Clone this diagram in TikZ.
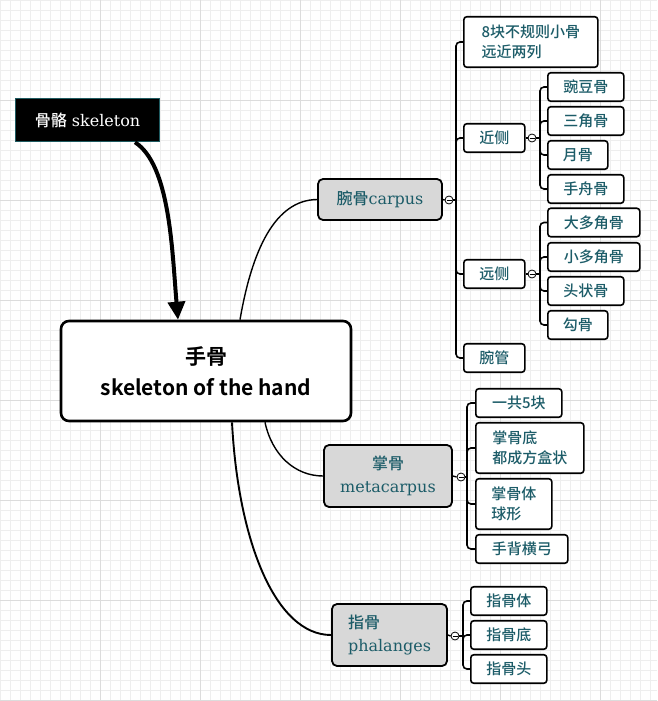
\documentclass[tikz,border=0pt]{standalone}
\usepackage{fontspec}
\setmainfont{DejaVu Serif}
\newfontfamily\cjk{Noto Sans CJK SC Medium}[BoldFont={Noto Sans CJK SC Bold}]
\usepackage{xcolor}
\usepackage{tikz}
\usetikzlibrary{arrows.meta, positioning}
\definecolor{topictext}{RGB}{28,92,104}
\definecolor{topicfill}{RGB}{216,216,216}
\definecolor{rootline}{RGB}{30,90,96}
\definecolor{gridminor}{RGB}{238,238,238}
\definecolor{gridmajor}{RGB}{220,220,220}

\begin{document}
\begin{tikzpicture}[x=1pt, y=-1pt,
    rootbox/.style={draw=rootline, line width=1.5pt, fill=black, text=white, minimum width=144pt, minimum height=43pt, inner sep=0pt, font=\fontsize{16}{18}\selectfont},
    mainbox/.style={draw, line width=2.6pt, rounded corners=8pt, fill=white, minimum width=290pt, minimum height=100pt, align=center, font=\cjk\bfseries\fontsize{21}{31}\selectfont},
    topicbox/.style={draw, line width=1.8pt, rounded corners=5pt, fill=topicfill, text=topictext, inner sep=0pt, font=\fontsize{16}{23}\selectfont},
    leafbox/.style={draw, line width=1.6pt, rounded corners=3pt, fill=white, text=topictext, anchor=west, minimum height=28.5pt, inner sep=0pt, font=\cjk\fontsize{15}{20}\selectfont},
    fold/.style={circle, draw, line width=0.8pt, fill=white, minimum size=8pt, inner sep=0pt, path picture={\draw ([xshift=1.5pt]path picture bounding box.west) -- ([xshift=-1.5pt]path picture bounding box.east);}},
    branch/.style={line width=1.6pt, rounded corners=4pt},
    link/.style={line width=1.4pt}]

    \useasboundingbox (0,0) rectangle (657,701);
    % background grid
    \foreach \x in {0,10,...,650} \draw[gridminor, line width=0.6pt] (\x,0) -- (\x,701);
    \foreach \y in {0,10,...,700} \draw[gridminor, line width=0.6pt] (0,\y) -- (657,\y);
    \foreach \x in {100,200,...,600} \draw[gridmajor, line width=0.8pt] (\x,0) -- (\x,701);
    \foreach \y in {100,200,...,700} \draw[gridmajor, line width=0.8pt] (0,\y) -- (657,\y);

    % main topics
    \node[rootbox] (skel) at (87.5,120) {{\cjk 骨骼} skeleton};
    \node[mainbox] (hand) at (206,371) {手骨\\skeleton of the hand};
    \node[topicbox, minimum width=124pt, minimum height=41pt] (carpus) at (380,199.5) {{\cjk 腕骨}carpus};
    \node[topicbox, minimum width=128pt, minimum height=62pt, align=center] (meta) at (388,476) {{\cjk 掌骨}\\metacarpus};
    \node[topicbox, minimum width=115pt, minimum height=62pt, align=left] (phal) at (389.5,635) {{\cjk 指骨}\\phalanges};

    % fold markers
    \node[fold] (carpusfold) at (449,200) {};
    \node[fold] (nearfold) at (532,138) {};
    \node[fold] (farfold) at (532,274) {};
    \node[fold] (metafold) at (461,477) {};
    \node[fold] (phalfold) at (455,636) {};

    % carpus
    \node[leafbox, minimum width=134pt, minimum height=50.5pt, align=left] (eight) at (463,42) {8块不规则小骨\\远近两列};
    \node[leafbox, minimum width=61pt] (near) at (463,138) {近侧};
    \node[leafbox, minimum width=61pt] (far) at (463,274) {远侧};
    \node[leafbox, minimum width=61pt] (tunnel) at (463,358) {腕管};

    \node[leafbox, minimum width=76pt] (pisiform) at (547,87) {豌豆骨};
    \node[leafbox, minimum width=76pt] (triquetrum) at (547,121) {三角骨};
    \node[leafbox, minimum width=60pt] (lunate) at (547,155) {月骨};
    \node[leafbox, minimum width=76pt] (scaphoid) at (547,189) {手舟骨};

    \node[leafbox, minimum width=92pt] (trapezium) at (547,222.5) {大多角骨};
    \node[leafbox, minimum width=92pt] (trapezoid) at (547,257) {小多角骨};
    \node[leafbox, minimum width=76pt] (capitate) at (547,291) {头状骨};
    \node[leafbox, minimum width=60pt] (hamate) at (547,325) {勾骨};

    % metacarpus
    \node[leafbox, minimum width=86pt] (mcount) at (475,403) {一共5块};
    \node[leafbox, minimum width=108pt, minimum height=50.5pt, align=left] (mbase) at (475,448) {掌骨底\\都成方盒状};
    \node[leafbox, minimum width=76pt, minimum height=50.5pt, align=left] (mbody) at (475,504) {掌骨体\\球形};
    \node[leafbox, minimum width=92pt] (march) at (475,549) {手背横弓};

    % phalanges
    \node[leafbox, minimum width=76pt] (pbody) at (470,601) {指骨体};
    \node[leafbox, minimum width=76pt] (pbase) at (470,635) {指骨底};
    \node[leafbox, minimum width=76pt] (phead) at (470,669) {指骨头};

    % spines
    \coordinate (carpusspine) at (456,200);
    \coordinate (nearspine) at (540,138);
    \coordinate (farspine) at (540,274);
    \coordinate (metaspine) at (467,477);
    \coordinate (phalspine) at (463,636);

    \draw[link] (carpus.east) -- (carpusfold.west);
    \draw[link] (meta.east) -- (metafold.west);
    \draw[link] (phal.east) -- (phalfold.west);
    \draw[branch] (carpusfold.east) -- (carpusspine);
    \draw[branch] (nearfold.east) -- (nearspine);
    \draw[branch] (farfold.east) -- (farspine);
    \draw[branch] (metafold.east) -- (metaspine);
    \draw[branch] (phalfold.east) -- (phalspine);
    \draw[link] (near.east) -- (nearfold.west);
    \draw[link] (far.east) -- (farfold.west);

    \foreach \n in {eight,near,far,tunnel} \draw[branch] (carpusspine) |- (\n.west);
    \foreach \n in {pisiform,triquetrum,lunate,scaphoid} \draw[branch] (nearspine) |- (\n.west);
    \foreach \n in {trapezium,trapezoid,capitate,hamate} \draw[branch] (farspine) |- (\n.west);
    \foreach \n in {mcount,mbase,mbody,march} \draw[branch] (metaspine) |- (\n.west);
    \foreach \n in {pbody,pbase,phead} \draw[branch] (phalspine) |- (\n.west);

    % curves from the hand
    \draw[link] ([xshift=34pt]hand.north) .. controls (252,250) and (275,200) .. (carpus.west);
    \draw[link] ([xshift=59pt]hand.south) .. controls (272,455) and (295,476) .. (meta.west);
    \draw[link, line width=1.9pt] ([xshift=26pt]hand.south) .. controls (238,540) and (275,635) .. (phal.west);

    \draw[line width=4pt, -{Triangle[length=18pt, width=17pt]}] ([xshift=47.5pt]skel.south) .. controls (170,165) and (172,250) .. ([xshift=-28pt]hand.north);
\end{tikzpicture}
\end{document}
